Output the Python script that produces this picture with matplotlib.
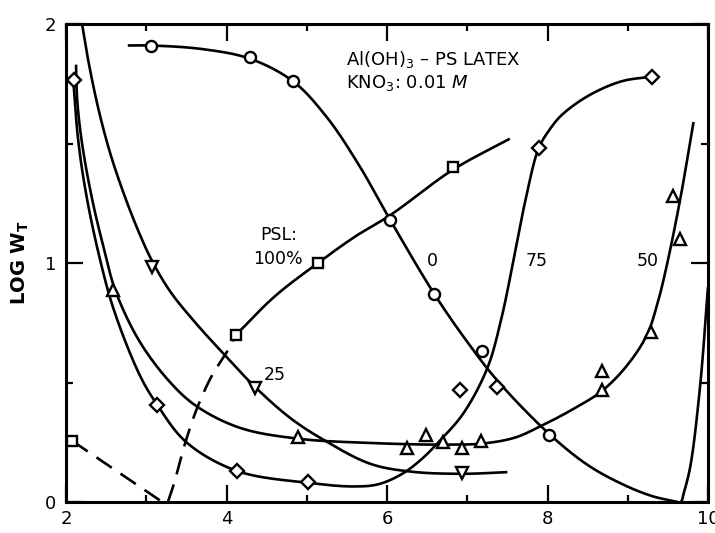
"""
Al(OH)3 - PS latex heterocoagulation: LOG W_T vs pH for several PSL fractions
"""

import numpy as np
import matplotlib

matplotlib.use("Agg")
import matplotlib.pyplot as plt

plt.rcParams["font.family"] = ["DejaVu Sans"]
plt.rcParams["mathtext.fontset"] = "dejavusans"

# === measured points (pH, log W_T) ===
psl0_x = [3.06, 4.29, 4.83, 6.04, 6.59, 7.18, 8.02]
psl0_y = [1.91, 1.86, 1.76, 1.18, 0.87, 0.63, 0.28]

psl100_x = [2.08, 4.12, 5.14, 6.82]
psl100_y = [0.255, 0.70, 1.00, 1.40]

psl75_x = [2.095, 3.13, 4.13, 5.02, 6.91, 7.37, 7.89, 9.30]
psl75_y = [1.765, 0.405, 0.13, 0.085, 0.47, 0.48, 1.48, 1.78]

psl50_x = [2.59, 4.89, 6.25, 6.49, 6.70, 6.94, 7.17, 8.68, 8.68, 9.29, 9.57, 9.65]
psl50_y = [0.887, 0.27, 0.226, 0.28, 0.25, 0.226, 0.254, 0.47, 0.547, 0.71, 1.28, 1.10]

psl25_x = [3.07, 4.36, 6.94]
psl25_y = [0.985, 0.476, 0.12]

# === hand-drawn curves ===
curve0_x = [2.77, 3.06, 3.7, 4.29, 4.83, 5.25, 5.65, 6.04, 6.59, 7.0, 7.37, 8.02, 8.5, 8.93, 9.3, 9.62]
curve0_y = [1.91, 1.91, 1.895, 1.855, 1.76, 1.61, 1.41, 1.18, 0.87, 0.67, 0.51, 0.285, 0.155, 0.075, 0.025, 0.0]
curve0b_x = [9.60, 9.66, 9.70, 9.78, 9.90, 10.0]
curve0b_y = [0.0, 0.0, 0.04, 0.15, 0.48, 0.90]

curve100_x = [4.12, 4.6, 5.14, 5.6, 6.04, 6.82, 7.53]
curve100_y = [0.70, 0.86, 1.00, 1.11, 1.20, 1.39, 1.52]
dash100a_x = [2.08, 3.20]
dash100a_y = [0.255, 0.0]
dash100b_x = [3.27, 3.34, 3.47, 3.63, 3.82, 4.0, 4.12]
dash100b_y = [0.0, 0.07, 0.23, 0.39, 0.53, 0.625, 0.70]

curve75_x = [2.09, 2.15, 2.25, 2.42, 2.6, 2.92, 3.13, 3.5, 4.13, 5.02, 5.6, 5.9, 6.2, 6.45,
             6.64, 6.95, 7.25, 7.42, 7.57, 7.73, 7.89, 8.03, 8.18, 8.51, 8.92, 9.30]
curve75_y = [1.77, 1.52, 1.29, 1.02, 0.80, 0.53, 0.41, 0.25, 0.13, 0.08, 0.065, 0.075, 0.12, 0.185,
             0.25, 0.37, 0.56, 0.76, 1.00, 1.27, 1.48, 1.56, 1.62, 1.70, 1.76, 1.78]

curve50_x = [2.125, 2.14, 2.2, 2.33, 2.48, 2.62, 2.92, 3.3, 3.63, 4.17, 4.89, 5.79, 6.7, 7.2,
             7.6, 7.93, 8.3, 8.68, 9.0, 9.24, 9.37, 9.48, 9.65, 9.82]
curve50_y = [1.83, 1.68, 1.50, 1.26, 1.05, 0.88, 0.67, 0.50, 0.40, 0.31, 0.265, 0.247, 0.24, 0.245,
             0.27, 0.32, 0.385, 0.465, 0.575, 0.70, 0.83, 0.98, 1.26, 1.59]

curve25_x = [2.2, 2.27, 2.4, 2.55, 2.72, 2.9, 3.07, 3.3, 3.6, 3.95, 4.36, 4.8, 5.21, 5.79, 6.3, 6.94, 7.5]
curve25_y = [2.0, 1.86, 1.65, 1.46, 1.29, 1.135, 1.01, 0.88, 0.755, 0.625, 0.48, 0.35, 0.26, 0.16, 0.127, 0.118, 0.125]

x_ticks = [2, 4, 6, 8, 10]
y_ticks = [0, 1, 2]


def smooth(xs, ys, n=24, yscale=3.0):
    """centripetal Catmull-Rom through the read-off points"""
    p = np.column_stack([xs, np.asarray(ys) * yscale]).astype(float)
    p = np.vstack([2 * p[0] - p[1], p, 2 * p[-1] - p[-2]])
    out = []
    for i in range(1, len(p) - 2):
        p0, p1, p2, p3 = p[i - 1], p[i], p[i + 1], p[i + 2]
        t0 = 0.0
        t1 = t0 + max(np.linalg.norm(p1 - p0), 1e-6) ** 0.5
        t2 = t1 + max(np.linalg.norm(p2 - p1), 1e-6) ** 0.5
        t3 = t2 + max(np.linalg.norm(p3 - p2), 1e-6) ** 0.5
        t = np.linspace(t1, t2, n, endpoint=False)[:, None]
        a1 = (t1 - t) / (t1 - t0) * p0 + (t - t0) / (t1 - t0) * p1
        a2 = (t2 - t) / (t2 - t1) * p1 + (t - t1) / (t2 - t1) * p2
        a3 = (t3 - t) / (t3 - t2) * p2 + (t - t2) / (t3 - t2) * p3
        b1 = (t2 - t) / (t2 - t0) * a1 + (t - t0) / (t2 - t0) * a2
        b2 = (t3 - t) / (t3 - t1) * a2 + (t - t1) / (t3 - t1) * a3
        out.append((t2 - t) / (t2 - t1) * b1 + (t - t1) / (t2 - t1) * b2)
    out.append(p[-2][None])
    c = np.vstack(out)
    return c[:, 0], c[:, 1] / yscale


def draw():
    fig = plt.figure(figsize=(7.15, 5.33), dpi=100)
    ax = fig.add_axes([66 / 715, 31 / 533, 642 / 715, 478 / 533])
    ax.set_xlim(2, 10)
    ax.set_ylim(0, 2)

    line_kw = dict(color="black", lw=1.9, solid_capstyle="butt")

    # curves
    for cx, cy in [
        (curve0_x, curve0_y),
        (curve0b_x, curve0b_y),
        (curve100_x, curve100_y),
        (curve75_x, curve75_y),
        (curve50_x, curve50_y),
        (curve25_x, curve25_y),
    ]:
        sx, sy = smooth(cx, cy)
        ax.plot(sx, sy, **line_kw)

    # dashed low-pH part of the 100% curve
    ax.plot(dash100a_x, dash100a_y, color="black", lw=1.9, dashes=(7, 4))
    sx, sy = smooth(dash100b_x, dash100b_y)
    ax.plot(sx, sy, color="black", lw=1.9, dashes=(7, 4))

    # markers
    mk = dict(ls="none", mfc="white", mec="black", mew=1.7, zorder=5, clip_on=False)
    ax.plot(psl0_x, psl0_y, marker="o", ms=8, **mk)
    ax.plot(psl100_x, psl100_y, marker="s", ms=7.5, **mk)
    ax.plot(psl75_x, psl75_y, marker="D", ms=7.5, **mk)
    ax.plot(psl50_x, psl50_y, marker="^", ms=9, **mk)
    ax.plot(psl25_x, psl25_y, marker="v", ms=9, **mk)

    # axes
    ax.set_xticks(x_ticks)
    ax.set_xticklabels([str(v) for v in x_ticks])
    ax.set_xticks([3, 5, 7, 9], minor=True)
    ax.set_yticks(y_ticks)
    ax.set_yticklabels([str(v) for v in y_ticks])
    ax.set_yticks([0.5, 1.5], minor=True)
    ax.tick_params(which="both", direction="in", top=True, right=True, width=1.6, labelsize=13)
    ax.tick_params(which="major", length=12)
    ax.tick_params(which="minor", length=5)
    ax.tick_params(axis="x", pad=6)
    ax.tick_params(axis="y", pad=7)
    for s in ax.spines.values():
        s.set_linewidth(2.2)

    ax.set_ylabel(r"LOG W$_{\mathbf{T}}$", fontsize=14, fontweight="bold", labelpad=10)

    # annotations
    ax.text(5.49, 1.85, r"Al(OH)$_3$ – PS LATEX", fontsize=13, va="center")
    ax.text(5.49, 1.755, r"KNO$_3$: 0.01 $M$", fontsize=13, va="center")
    ax.text(4.65, 1.117, "PSL:", fontsize=12.5, ha="center", va="center")
    ax.text(4.64, 1.017, "100%", fontsize=12.5, ha="center", va="center")
    ax.text(6.57, 1.01, "0", fontsize=12.5, ha="center", va="center")
    ax.text(7.87, 1.01, "75", fontsize=12.5, ha="center", va="center")
    ax.text(9.25, 1.01, "50", fontsize=12.5, ha="center", va="center")
    ax.text(4.6, 0.53, "25", fontsize=12.5, ha="center", va="center")

    return fig


if __name__ == "__main__":
    fig = draw()
    fig.savefig("out.png", dpi=100)
